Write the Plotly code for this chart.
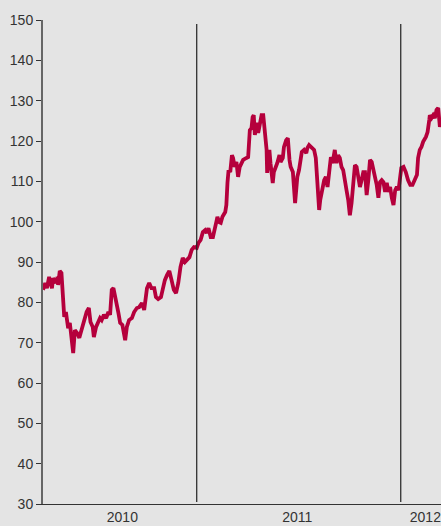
import pandas as pd
import plotly.graph_objects as go

START_DATE = "2010-04-01"
# days since START_DATE for each observation
days_since_start = [
    0, 4, 7, 11, 16, 18, 23, 26, 27, 30, 33, 38, 41, 45, 48, 51, 54, 57, 61, 65,
    69, 73, 78, 82, 85, 89, 91, 95, 99, 102, 105, 109, 113, 117, 120, 123, 126, 131, 135, 138,
    142, 147, 150, 154, 159, 163, 168, 172, 177, 181, 186, 190, 194, 199, 202, 206, 211, 214, 218, 222,
    226, 230, 234, 238, 242, 246, 250, 254, 258, 262, 266, 270, 275, 278, 282, 286, 290, 293, 296, 300,
    304, 306, 310, 312, 315, 318, 321, 326, 328, 330, 332, 335, 338, 340, 343, 346, 349, 352, 355, 358,
    364, 367, 370, 373, 375, 377, 379, 382, 385, 388, 391, 394, 397, 400, 401, 405, 407, 411, 413, 417,
    419, 423, 425, 429, 431, 435, 438, 441, 443, 447, 449, 451, 455, 458, 463, 467, 471, 473, 476, 481,
    485, 488, 491, 494, 496, 499, 503, 506, 509, 512, 515, 518, 522, 525, 528, 531, 534, 537, 540, 543,
    546, 549, 552, 555, 558, 561, 564, 567, 570, 573, 576, 579, 582, 585, 588, 591, 594, 597, 600, 603,
    606, 609, 612, 615, 618, 621, 624, 627, 630, 633, 636, 639, 641, 645, 649, 653, 657, 661, 664, 669,
    671, 674, 677, 680, 685, 688, 691, 692, 695, 698, 701, 704, 707, 710, 712,
]
values = [
    83.1, 84.8, 83.5, 86.3, 83.5, 86.0, 84.8, 86.3, 84.3, 87.8, 87.3, 76.4, 77.6, 73.6, 74.9, 69.9, 67.4, 73.1, 72.4, 71.2,
    73.1, 75.6, 77.6, 78.6, 75.1, 73.9, 71.4, 73.9, 75.1, 76.1, 75.6, 76.9, 76.1, 77.6, 76.9, 83.1, 83.5, 80.6, 77.3, 74.9,
    74.4, 70.6, 73.9, 75.6, 76.1, 77.6, 78.6, 78.8, 79.8, 78.1, 83.5, 84.8, 83.5, 83.5, 81.3, 80.8, 81.3, 83.1, 85.5, 86.8,
    87.8, 85.5, 83.1, 82.3, 84.8, 88.8, 91.0, 90.0, 90.5, 91.2, 93.0, 93.7, 93.5, 94.7, 95.5, 97.4, 97.9, 97.2, 98.4, 96.2,
    96.2, 97.9, 99.9, 101.2, 99.9, 99.7, 101.2, 102.4, 104.1, 109.6, 112.8, 112.3, 116.5, 115.8, 113.6, 114.8, 111.1, 113.6, 114.8, 115.3,
    115.8, 116.0, 122.7, 123.2, 125.9, 126.4, 121.5, 124.5, 122.0, 124.0, 126.4, 126.4, 122.7, 117.8, 112.1, 117.8, 114.5, 109.6, 112.3, 113.6,
    114.5, 116.5, 114.8, 115.8, 118.5, 120.2, 120.7, 115.3, 113.6, 112.3, 108.6, 104.6, 111.1, 112.8, 117.3, 117.8, 117.0, 118.3, 119.0, 118.3,
    117.8, 115.8, 110.3, 102.9, 105.4, 107.8, 110.3, 111.1, 108.6, 112.3, 116.0, 114.5, 117.8, 114.5, 116.5, 115.8, 113.6, 112.8, 109.6, 107.8,
    105.4, 101.6, 104.6, 109.6, 114.0, 113.6, 111.6, 108.6, 110.3, 112.3, 112.3, 106.6, 110.3, 115.3, 114.8, 112.8, 110.3, 109.1, 105.9, 109.8,
    110.3, 109.8, 107.4, 109.6, 107.4, 108.6, 105.9, 104.1, 107.8, 108.6, 107.8, 110.3, 113.3, 113.6, 112.3, 110.3, 109.1, 109.1, 110.3, 111.6,
    115.8, 117.8, 118.5, 119.8, 121.0, 122.2, 125.2, 126.4, 125.7, 126.4, 125.7, 127.7, 128.2, 123.5, 124.7,
]

year_boundaries = ["2011-01-01", "2012-01-01"]
year_label_dates = ["2010-08-21", "2011-06-30", "2012-02-14"]
year_labels = ["2010", "2011", "2012"]
y_ticks = [30, 40, 50, 60, 70, 80, 90, 100, 110, 120, 130, 140, 150]
x_range = ["2010-04-01", "2012-03-13"]
y_range = [30, 150]

dates = pd.Timestamp(START_DATE) + pd.to_timedelta(days_since_start, unit="D")

BG = "#e4e4e4"
FONT = "Liberation Sans, Arial, sans-serif"

fig = go.Figure()
fig.add_trace(go.Scatter(
    x=dates, y=values, mode="lines",
    line=dict(color="#b5003c", width=3.8),
    hoverinfo="x+y", showlegend=False,
))

for b in year_boundaries:
    fig.add_shape(type="line", xref="x", yref="y", x0=b, x1=b, y0=30.5, y1=149,
                  line=dict(color="#222222", width=1.2), layer="above")

fig.update_layout(
    width=441, height=526,
    margin=dict(l=43, r=0, t=20, b=22),
    paper_bgcolor=BG, plot_bgcolor=BG,
    font=dict(family=FONT, size=14, color="#333333"),
    xaxis=dict(
        type="date", range=x_range, showgrid=False, zeroline=False,
        showline=True, linecolor="#333333", linewidth=1,
        tickmode="array", tickvals=year_label_dates, ticktext=year_labels,
        ticks="", tickfont=dict(family=FONT, size=14, color="#333333"),
        ticklabeloverflow="allow", automargin=False,
    ),
    yaxis=dict(
        range=y_range, showgrid=False, zeroline=False,
        showline=True, linecolor="#666666", linewidth=2,
        tickmode="array", tickvals=y_ticks,
        ticks="outside", ticklen=5, tickwidth=1, tickcolor="#333333",
        tickfont=dict(family=FONT, size=14, color="#333333"),
        automargin=False,
    ),
)

fig.write_html(
    "out.html",
    config={"displayModeBar": False},
    post_script="document.body.style.margin='0';document.body.style.overflow='hidden';",
)
